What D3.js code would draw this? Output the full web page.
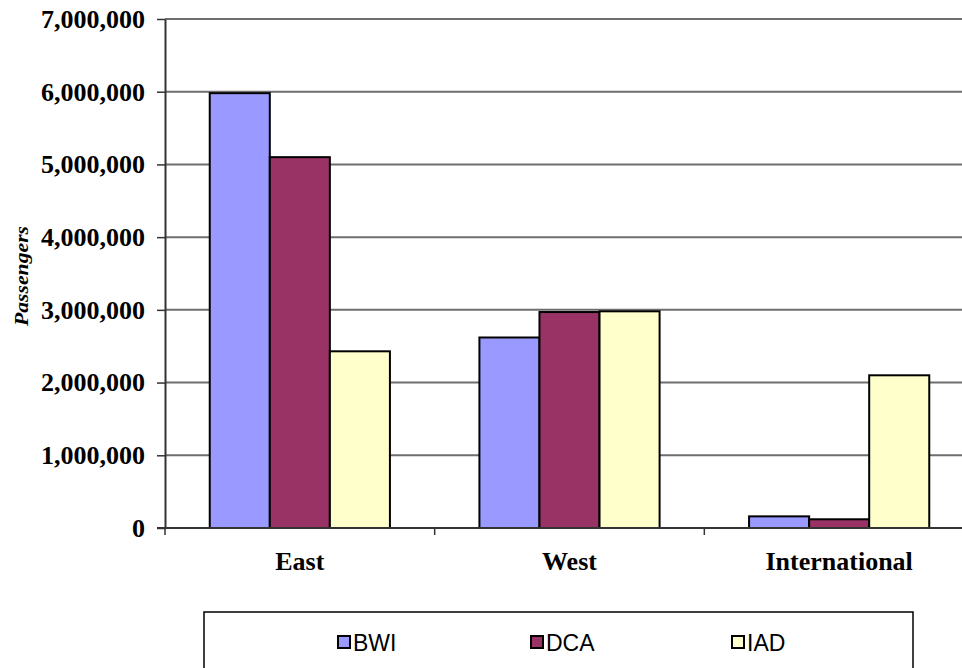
<!DOCTYPE html>
<html>
<head>
<meta charset="utf-8">
<script src="https://cdn.jsdelivr.net/npm/d3@7"></script>
<style>
  body { margin: 0; background: #fff; }
  svg { display: block; }
</style>
</head>
<body>
<div id="container"></div>
<script>
// DATA
const regions = ["East", "West", "International"];
const airports = ["BWI", "DCA", "IAD"];
const bwiValues = [5980000, 2620000, 160000];
const dcaValues = [5100000, 2970000, 120000];
const iadValues = [2430000, 2980000, 2100000];
const yTicks = [0, 1000000, 2000000, 3000000, 4000000, 5000000, 6000000, 7000000];
const colors = ["#9999FF", "#993366", "#FFFFCC"];

const width = 962, height = 668;
const margin = {top: 19, left: 165, bottom: 140, right: -12};

const seriesValues = [bwiValues, dcaValues, iadValues];
const data = regions.map((r, i) => ({
  region: r,
  values: airports.map((a, j) => ({airport: a, value: seriesValues[j][i]}))
}));

const svg = d3.select("#container").append("svg")
  .attr("width", width)
  .attr("height", height);

// SCALES
const x0 = d3.scaleBand()
  .domain(regions)
  .range([margin.left, width - margin.right])
  .padding(0);

const x1 = d3.scaleBand()
  .domain(airports)
  .range([0, x0.bandwidth()])
  .paddingInner(0)
  .paddingOuter(0.745);

const yScale = d3.scaleLinear()
  .domain([0, 7000000])
  .range([height - margin.bottom, margin.top]);

const color = d3.scaleOrdinal().domain(airports).range(colors);

// gridlines
svg.append("g")
  .selectAll("line")
  .data(yTicks.filter(d => d > 0))
  .join("line")
  .attr("x1", margin.left)
  .attr("x2", width)
  .attr("y1", d => yScale(d))
  .attr("y2", d => yScale(d))
  .attr("stroke", "#6e6e6e")
  .attr("stroke-width", 2);

// bars
const groups = svg.append("g")
  .selectAll("g")
  .data(data)
  .join("g")
  .attr("transform", d => `translate(${x0(d.region)},0)`);

groups.selectAll("rect")
  .data(d => d.values)
  .join("rect")
  .attr("x", d => x1(d.airport))
  .attr("y", d => yScale(d.value))
  .attr("width", x1.bandwidth())
  .attr("height", d => yScale(0) - yScale(d.value))
  .attr("fill", d => color(d.airport))
  .attr("stroke", "#000")
  .attr("stroke-width", 2);

// axes
const yAxis = d3.axisLeft(yScale)
  .tickValues(yTicks)
  .tickFormat(d3.format(","))
  .tickSizeInner(8)
  .tickSizeOuter(0)
  .tickPadding(12);

const yAxisGroup = svg.append("g")
  .attr("transform", `translate(${margin.left},0)`)
  .call(yAxis);

yAxisGroup.select(".domain").attr("stroke", "#333").attr("stroke-width", 2);
yAxisGroup.selectAll(".tick line").attr("stroke", "#333").attr("stroke-width", 1.5);
yAxisGroup.selectAll(".tick text")
  .attr("font-family", "'Liberation Serif', 'Times New Roman', serif")
  .attr("font-weight", "bold")
  .attr("font-size", 26)
  .attr("fill", "#000");

const xAxis = d3.axisBottom(x0)
  .tickSize(0)
  .tickFormat("");

const xAxisGroup = svg.append("g")
  .attr("transform", `translate(0,${yScale(0)})`)
  .call(xAxis);
xAxisGroup.select(".domain").remove();

xAxisGroup.append("line")
  .attr("x1", margin.left - 8)
  .attr("x2", width)
  .attr("stroke", "#333")
  .attr("stroke-width", 2);

// tick marks between categories
xAxisGroup.selectAll("line.sep")
  .data(regions)
  .join("line")
  .attr("class", "sep")
  .attr("x1", d => x0(d))
  .attr("x2", d => x0(d))
  .attr("y1", 0)
  .attr("y2", 7)
  .attr("stroke", "#333")
  .attr("stroke-width", 1.5);

xAxisGroup.selectAll("text.cat")
  .data(regions)
  .join("text")
  .attr("class", "cat")
  .attr("x", d => x0(d) + x0.bandwidth() / 2)
  .attr("y", 42)
  .attr("text-anchor", "middle")
  .attr("font-family", "'Liberation Serif', 'Times New Roman', serif")
  .attr("font-weight", "bold")
  .attr("font-size", 26)
  .attr("fill", "#000")
  .text(d => d);

// y title
svg.append("text")
  .attr("transform", `translate(28,276) rotate(-90)`)
  .attr("text-anchor", "middle")
  .attr("font-family", "'Liberation Serif', 'Times New Roman', serif")
  .attr("font-weight", "bold")
  .attr("font-style", "italic")
  .attr("font-size", 19)
  .attr("textLength", 100)
  .attr("lengthAdjust", "spacingAndGlyphs")
  .text("Passengers");

// legend
svg.append("rect")
  .attr("x", 204)
  .attr("y", 612)
  .attr("width", 709)
  .attr("height", 80)
  .attr("fill", "#fff")
  .attr("stroke", "#000")
  .attr("stroke-width", 1.5);

const legendX = [338, 531, 732];
const legend = svg.append("g")
  .selectAll("g")
  .data(airports)
  .join("g")
  .attr("transform", (d, i) => `translate(${legendX[i]},636)`);

legend.append("rect")
  .attr("width", 12)
  .attr("height", 12)
  .attr("fill", d => color(d))
  .attr("stroke", "#000")
  .attr("stroke-width", 2);

legend.append("text")
  .attr("x", 15)
  .attr("y", 15)
  .attr("font-family", "'Liberation Sans', Arial, sans-serif")
  .attr("font-size", 23)
  .attr("fill", "#000")
  .text(d => d);
</script>
</body>
</html>
